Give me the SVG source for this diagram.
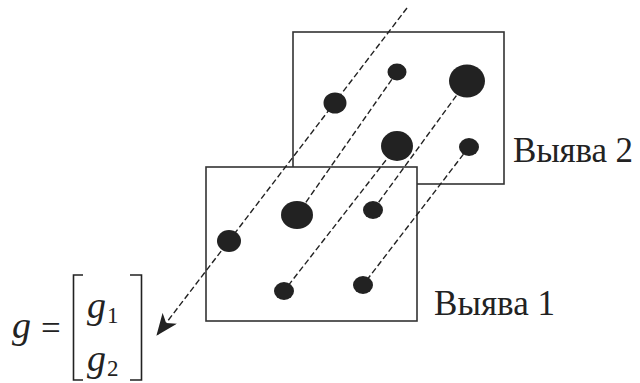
<svg xmlns="http://www.w3.org/2000/svg" width="640" height="383" viewBox="0 0 640 383">
<style>
.frame{fill:#fff;stroke:#333;stroke-width:1.6}
.dash{fill:none;stroke:#222;stroke-width:1.4;stroke-dasharray:6 3}
.dot{fill:#222}
.lbl{font-family:'Liberation Serif',serif;font-size:35px;fill:#222}
.mi{font-family:'Liberation Serif',serif;font-style:italic;font-size:38px;fill:#222}
.sub{font-family:'Liberation Serif',serif;font-size:23px;fill:#222}
.br{fill:none;stroke:#222;stroke-width:1.6}
</style>
<defs>
<marker id="ah" viewBox="0 0 22 18" refX="21" refY="9" markerWidth="22" markerHeight="18" markerUnits="userSpaceOnUse" orient="auto">
<path d="M0,0 L22,9 L0,18 L6,9 Z" fill="#222"/>
</marker>
</defs>
<g id="frame2"><rect class="frame" x="293" y="32" width="211" height="152"/></g>
<g id="frame1"><rect class="frame" x="206" y="167" width="211" height="154"/></g>
<g id="connectors">
<line class="dash" x1="407" y1="8" x2="157" y2="335" marker-end="url(#ah)"/>
<line class="dash" x1="397" y1="72" x2="297" y2="215"/>
<line class="dash" x1="467" y1="81" x2="373" y2="210"/>
<line class="dash" x1="397" y1="146" x2="284" y2="291"/>
<line class="dash" x1="469" y1="147" x2="363" y2="285"/>
</g>
<g id="dots2">
<ellipse class="dot" cx="335" cy="103" rx="11.5" ry="10.5"/>
<ellipse class="dot" cx="397" cy="72" rx="9.5" ry="8.5"/>
<ellipse class="dot" cx="467" cy="81" rx="18" ry="16.5"/>
<ellipse class="dot" cx="397" cy="146" rx="16" ry="15"/>
<ellipse class="dot" cx="469" cy="147" rx="10" ry="9"/>
</g>
<g id="dots1">
<ellipse class="dot" cx="229" cy="241" rx="12" ry="11"/>
<ellipse class="dot" cx="297" cy="215" rx="16" ry="14"/>
<ellipse class="dot" cx="373" cy="210" rx="10" ry="9"/>
<ellipse class="dot" cx="284" cy="291" rx="10" ry="9"/>
<ellipse class="dot" cx="363" cy="285" rx="10" ry="9"/>
</g>
<g id="label2"><text class="lbl" x="513" y="162" textLength="120">Выява 2</text></g>
<g id="label1"><text class="lbl" x="434" y="315" textLength="121">Выява 1</text></g>
<g id="vector">
<text class="mi" x="12" y="338">g</text>
<text class="lbl" x="41" y="340">=</text>
<path class="br" d="M83,275 H73.5 V380 H83"/>
<path class="br" d="M130,275 H141.5 V380 H130"/>
<text class="mi" x="87" y="318">g</text>
<text class="sub" x="107" y="323">1</text>
<text class="mi" x="87" y="371">g</text>
<text class="sub" x="107" y="376">2</text>
</g>
</svg>
